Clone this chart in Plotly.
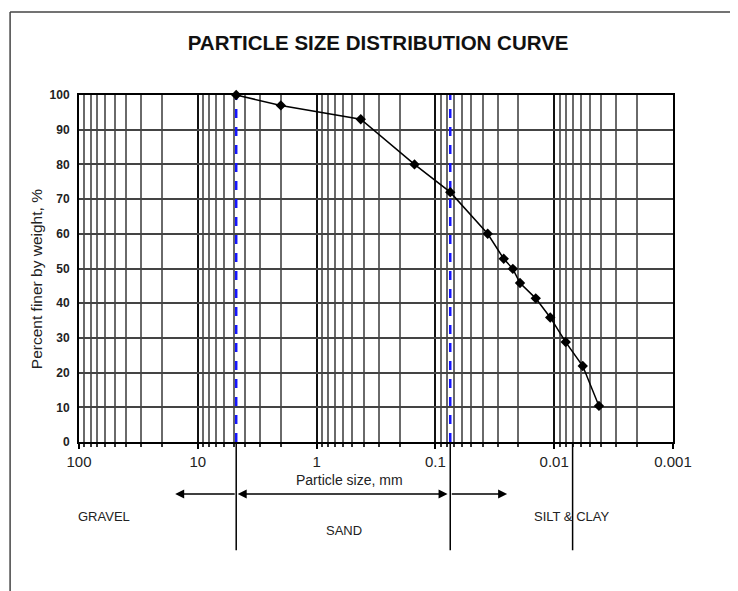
import numpy as np
import plotly.graph_objects as go

# ---- data ----
size_mm = [4.75, 2.0, 0.425, 0.15, 0.075, 0.0363, 0.0266, 0.0223, 0.0194,
           0.0143, 0.0108, 0.0080, 0.00575, 0.0042]
pct_finer = [100, 97, 93, 80, 72, 60, 52.8, 49.9, 45.8, 41.4, 35.9, 28.8, 21.9, 10.4]

boundaries_dashed = [4.75, 0.075]          # blue dashed lines
boundaries_solid = [4.75, 0.075, 0.007]    # black lines below the axis
x_tick_vals = [100, 10, 1, 0.1, 0.01, 0.001]
x_tick_text = ["100", "10", "1", "0.1", "0.01", "0.001"]
y_tick_vals = list(range(0, 101, 10))
y_tick_text = [f"<b>{v}</b>" for v in y_tick_vals]

zone_labels = ["GRAVEL", "SAND", "SILT & CLAY"]
zone_label_x = [62, 0.59, 0.0072]          # mm, label centres
zone_label_y = [-0.243, -0.283, -0.243]    # y-domain fractions

arrow_tail = [4.75, 4.75, 0.075]
arrow_head = [15.5, 0.079, 0.0249]

FONT = "Liberation Sans, Arial, sans-serif"

fig = go.Figure()

# blue dashed boundary lines
for b in boundaries_dashed:
    fig.add_trace(go.Scatter(x=[b, b], y=[0, 100], mode="lines",
                             line=dict(color="#1515ff", width=2.5, dash="dash"),
                             showlegend=False, hoverinfo="skip"))

# data curve
fig.add_trace(go.Scatter(x=size_mm, y=pct_finer, mode="lines+markers",
                         line=dict(color="black", width=1.5),
                         marker=dict(symbol="diamond", size=8, color="black"),
                         showlegend=False, cliponaxis=False))

# black boundary lines below axis
for b in boundaries_solid:
    fig.add_shape(type="line", xref="x", yref="y domain", x0=b, x1=b,
                  y0=-0.312, y1=0, line=dict(color="black", width=1.5))

# arrows
for i, (t, h) in enumerate(zip(arrow_tail, arrow_head)):
    fig.add_annotation(x=np.log10(h), y=-0.15, xref="x", yref="y domain",
                       ax=np.log10(t), ay=-0.15, axref="x", ayref="y domain",
                       showarrow=True, arrowhead=2, arrowsize=1.2, arrowwidth=1.5,
                       arrowcolor="black", text="",
                       arrowside="end+start" if i == 1 else "end")

# zone labels
for lab, lx, ly in zip(zone_labels, zone_label_x, zone_label_y):
    fig.add_annotation(x=np.log10(lx), y=ly, xref="x", yref="y domain",
                       text=lab, showarrow=False,
                       font=dict(family=FONT, size=13, color="#222"))

# x title
fig.add_annotation(x=0.455, y=-0.138, xref="paper", yref="paper",
                   text="Particle size, mm", showarrow=False,
                   font=dict(family=FONT, size=14, color="#222"))

# y title
fig.add_annotation(x=-0.088, y=0.47, xref="paper", yref="paper",
                   text="Percent finer by weight, %", showarrow=False,
                   textangle=-90,
                   font=dict(family=FONT, size=15.5, color="#222"))

# page frame (top and left)
fig.add_shape(type="line", xref="paper", yref="paper", x0=-0.116, x1=1.2,
              y0=1.239, y1=1.239, line=dict(color="#444", width=1.5))
fig.add_shape(type="line", xref="paper", yref="paper", x0=-0.116, x1=-0.116,
              y0=1.239, y1=-0.45, line=dict(color="#444", width=1.5))

fig.update_layout(
    width=730, height=583, autosize=False,
    margin=dict(l=71, r=65, t=87, b=149),
    paper_bgcolor="white", plot_bgcolor="white",
    font=dict(family=FONT, color="#222"),
    title=dict(text="<b>PARTICLE SIZE DISTRIBUTION CURVE</b>",
               x=0.507, xanchor="center", y=0.94, yanchor="middle",
               font=dict(family=FONT, size=20.5, color="#111")),
)

fig.update_xaxes(
    type="log", range=[2, -3], tickmode="array",
    tickvals=x_tick_vals, ticktext=x_tick_text,
    ticks="outside", ticklen=5, tickcolor="black", tickwidth=1.5,
    ticklabelstandoff=0, automargin=False,
    tickfont=dict(family=FONT, size=15, color="#222"),
    showline=True, mirror=True, linecolor="black", linewidth=2,
    showgrid=True, gridcolor="#111", gridwidth=1.5,
    minor=dict(dtick="D1", showgrid=True, gridcolor="#6a6a6a", gridwidth=1.5,
               ticks="outside", ticklen=3, tickcolor="#333"),
    zeroline=False,
)
fig.update_yaxes(
    range=[0, 100], tickmode="array", tickvals=y_tick_vals, ticktext=y_tick_text,
    ticks="", tickfont=dict(family=FONT, size=12, color="#222"),
    ticklabelstandoff=5, automargin=False,
    showline=True, mirror=True, linecolor="black", linewidth=2,
    showgrid=True, gridcolor="#444", gridwidth=1.5, zeroline=False,
)

fig.write_html("out.html")
